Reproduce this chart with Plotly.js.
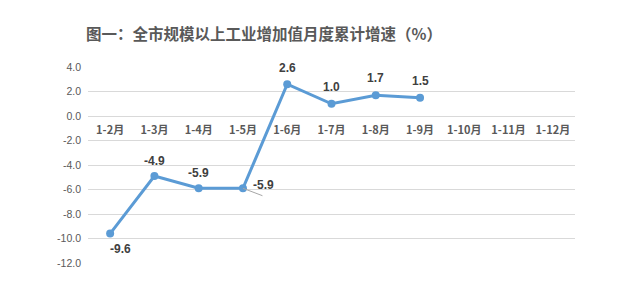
<!DOCTYPE html>
<html><head><meta charset="utf-8">
<script src="https://cdn.plot.ly/plotly-3.0.1.min.js"></script>
<style>html,body{margin:0;padding:0;background:#fff}#c{width:622px;height:285px}</style>
</head><body><div id="c"></div>
<script>
const categories = ['1-2月','1-3月','1-4月','1-5月','1-6月','1-7月','1-8月','1-9月','1-10月','1-11月','1-12月'];
const values = [-9.6, -4.9, -5.9, -5.9, 2.6, 1.0, 1.7, 1.5, null, null, null];
const labelText = ['-9.6','-4.9','-5.9','-5.9','2.6','1.0','1.7','1.5'];
const yTicks = [4, 2, 0, -2, -4, -6, -8, -10, -12];

const labelFont = {family: 'Liberation Sans, Arial, sans-serif', size: 12, color: '#404040', weight: 'bold'};
// label offsets (px) relative to each point
const offX = [10, 0, 0, 21, 0, 0, 0, 0];
const offY = [-15, 15, 15, 3, 16, 17, 17, 17];

const annotations = [];
labelText.forEach((t, i) => {
  annotations.push({x: categories[i], y: values[i], xref: 'x', yref: 'y', text: t, showarrow: false,
    xshift: offX[i], yshift: offY[i], font: labelFont});
});
// leader line for 1-5
annotations.push({x: categories[3], y: values[3], xref: 'x', yref: 'y', text: '', showarrow: true,
  arrowhead: 0, arrowwidth: 1, arrowcolor: '#a6a6a6', ax: 21, ay: 8, standoff: 0});

const trace = {
  x: categories, y: values, type: 'scatter', mode: 'lines+markers',
  line: {color: '#5b9bd5', width: 3},
  marker: {color: '#5b9bd5', size: 8},
  hoverinfo: 'skip', showlegend: false, cliponaxis: false
};

const layout = {
  width: 622, height: 285,
  margin: {l: 88, r: 47, t: 67, b: 22},
  paper_bgcolor: '#fff', plot_bgcolor: '#fff',
  title: {text: '图一：全市规模以上工业增加值月度累计增速（%）', xref: 'container', x: 264/622, xanchor: 'center',
    yref: 'container', y: 1 - 35/285, yanchor: 'middle',
    font: {family: 'Noto Sans CJK SC', size: 15.5, color: '#595959', weight: 'bold'}},
  xaxis: {type: 'category', categoryorder: 'array', categoryarray: categories,
    range: [-0.5, categories.length - 0.5],
    anchor: 'free', position: 0.75, showline: false, showgrid: false, zeroline: false,
    ticks: '', ticklabelstandoff: 6,
    tickfont: {family: 'Noto Sans CJK SC', size: 11, color: '#595959', weight: 'bold'}},
  yaxis: {range: [-12, 4], tickvals: yTicks, ticktext: yTicks.map(v => v.toFixed(1)),
    showgrid: true, gridcolor: '#d9d9d9', gridwidth: 1, zeroline: false, showline: false,
    ticks: '', ticklabelstandoff: 6,
    tickfont: {family: 'Liberation Sans, Arial, sans-serif', size: 10.5, color: '#595959'}},
  annotations: annotations
};

Plotly.newPlot('c', [trace], layout, {displayModeBar: false, staticPlot: true});
</script></body></html>
